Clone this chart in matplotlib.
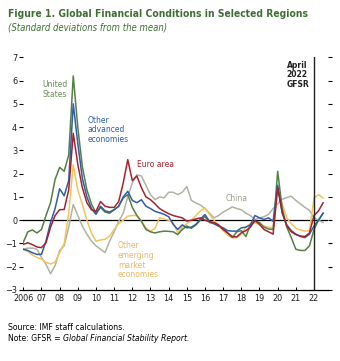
import numpy as np
import matplotlib
matplotlib.use("Agg")
from matplotlib import pyplot as plt
from matplotlib import font_manager

# pick a narrow face if one is installed
names = {(f.name, f.stretch) for f in font_manager.fontManager.ttflist}
if any(n == 'Liberation Sans Narrow' for n, s in names):
    plt.rcParams['font.family'] = ['Liberation Sans Narrow', 'DejaVu Sans']
elif ('DejaVu Sans', 'condensed') in names or ('DejaVu Sans', 'semi-condensed') in names:
    plt.rcParams['font.family'] = ['DejaVu Sans']
    plt.rcParams['font.stretch'] = 'condensed'
else:
    plt.rcParams['font.family'] = ['Liberation Sans', 'DejaVu Sans']

# quarterly, 2006Q1 .. 2022Q3
t = 2006 + np.arange(67) / 4

united_states = [-0.95, -0.5, -0.42, -0.55, -0.4, 0.2, 0.75, 1.75, 2.27, 2.1, 2.8, 6.2,
                 4.0, 2.3, 1.3, 0.7, 0.3, 0.55, 0.35, 0.3, 0.45, 0.6, 0.95, 1.1,
                 0.55, 0.2, -0.05, -0.4, -0.5, -0.55, -0.5, -0.47, -0.48, -0.5, -0.62, -0.4,
                 -0.25, -0.35, -0.2, 0.0, 0.15, -0.1, -0.15, -0.25, -0.35, -0.55, -0.75, -0.5,
                 -0.45, -0.7, -0.2, -0.05, -0.1, -0.3, -0.38, -0.4, 2.1, 0.5, -0.3, -0.75,
                 -1.25, -1.3, -1.3, -1.1, -0.4, 0.0, 0.3]
other_advanced = [-1.25, -1.3, -1.4, -1.47, -1.47, -0.9, -0.1, 0.5, 1.35, 1.05, 1.7, 5.0,
                  3.3, 1.8, 1.0, 0.5, 0.25, 0.6, 0.4, 0.35, 0.45, 0.6, 1.0, 1.24,
                  0.85, 0.75, 0.88, 0.6, 0.5, 0.38, 0.32, 0.25, 0.15, -0.18, -0.4, -0.2,
                  -0.33, -0.3, -0.18, 0.05, 0.24, -0.05, -0.15, -0.25, -0.33, -0.45, -0.47, -0.47,
                  -0.33, -0.3, -0.2, 0.2, 0.1, 0.03, 0.1, -0.05, 1.5, 0.3, -0.2, -0.45,
                  -0.6, -0.7, -0.75, -0.6, -0.25, 0.0, 0.3]
euro_area = [-1.04, -0.97, -1.05, -1.15, -1.18, -0.97, -0.3, 0.2, 0.45, 0.46, 1.3, 3.73,
             2.4, 1.4, 0.75, 0.45, 0.38, 0.8, 0.6, 0.55, 0.55, 0.8, 1.6, 2.6,
             1.7, 1.9, 1.4, 1.0, 0.88, 0.7, 0.5, 0.38, 0.28, 0.2, 0.15, 0.1,
             -0.04, 0.0, 0.05, 0.1, 0.0, -0.07, -0.1, -0.2, -0.4, -0.55, -0.7, -0.72,
             -0.54, -0.45, -0.3, 0.0, -0.18, -0.4, -0.5, -0.6, 1.4, 0.35, -0.25, -0.5,
             -0.62, -0.68, -0.7, -0.55, 0.2, 0.4, 0.75]
china = [-1.25, -1.2, -1.2, -1.25, -1.6, -1.9, -2.3, -1.95, -1.3, -1.1, -0.3, 0.67,
         0.2, -0.25, -0.6, -0.9, -1.1, -1.25, -1.39, -0.9, -0.5, -0.05, 0.3, 1.0,
         1.6, 1.95, 1.9, 1.5, 1.1, 0.88, 1.0, 0.96, 1.2, 1.2, 1.1, 1.2,
         1.45, 0.85, 0.74, 0.65, 0.5, 0.3, 0.1, 0.2, 0.35, 0.45, 0.57, 0.5,
         0.45, 0.3, 0.2, 0.03, 0.1, 0.15, 0.25, 0.5, 0.7, 0.9, 0.97, 1.03,
         0.85, 0.7, 0.55, 0.42, 0.1, 0.0, -0.1]
other_emerging = [-1.25, -1.35, -1.5, -1.6, -1.68, -1.82, -1.88, -1.8, -1.4, -1.0, 0.3, 2.38,
                  1.3, 0.67, 0.0, -0.55, -0.9, -0.85, -0.82, -0.68, -0.4, -0.15, 0.0, 0.17,
                  0.2, 0.2, -0.04, -0.33, -0.47, -0.35, 0.1, 0.05, 0.0, -0.11, -0.55, -0.3,
                  -0.15, 0.0, 0.2, 0.4, 0.53, 0.25, 0.0, -0.25, -0.45, -0.65, -0.75, -0.75,
                  -0.6, -0.3, -0.15, -0.12, -0.18, -0.25, -0.3, -0.33, 1.25, 0.7, 0.1, -0.15,
                  -0.35, -0.42, -0.47, -0.45, 0.95, 1.1, 0.95]

years = list(range(2006, 2023))
year_labels = ['2006'] + ['%02d' % (y % 100) for y in years[1:]]

c_us = '#557f45'
c_adv = '#2f5da6'
c_euro = '#a3232f'
c_china = '#b0b2a3'
c_em = '#f3c35f'
c_title = '#3f6e34'

fig = plt.figure(figsize=(3.4, 3.61), dpi=100)
renderer = fig.canvas.get_renderer()


def fit_size(s, width_px, **kw):
    # font size at which string s is width_px pixels wide
    tmp = fig.text(0, 0, s, fontsize=10, **kw)
    w = tmp.get_window_extent(renderer=renderer).width
    tmp.remove()
    return 10 * width_px / w


ax = fig.add_axes([0.0685, 0.1967, 0.8962, 0.6446])

lw = 1.1
ax.plot(t, china, color=c_china, lw=lw)
ax.plot(t, other_emerging, color=c_em, lw=lw)
ax.plot(t, united_states, color=c_us, lw=lw)
ax.plot(t, other_advanced, color=c_adv, lw=lw)
ax.plot(t, euro_area, color=c_euro, lw=lw)

ax.axhline(0, color='black', lw=0.9, zorder=1)
ax.axvline(2022, color='#222222', lw=1.0)

ax.set_xlim(2006, 2022.77)
ax.set_ylim(-3, 7)
ax.set_xticks(years)
ax.set_xticklabels(year_labels)
ax.set_yticks(range(-3, 8))

for s in ['top', 'left', 'right']:
    ax.spines[s].set_visible(False)
ax.spines['bottom'].set_linewidth(0.9)

tick_fs = min(fit_size('2006', 20.5), 8)
ax.tick_params(axis='x', direction='in', length=2.5, width=0.7, labelsize=tick_fs, pad=3)
ax.tick_params(axis='y', direction='out', length=3, width=0.8, labelsize=tick_fs, pad=1.5,
               right=True, left=True)
for lab in ax.get_xticklabels() + ax.get_yticklabels():
    lab.set_color('#1a1a1a')

ann_fs = min(fit_size('economies', 41.5), 8)
txt = dict(fontsize=ann_fs, linespacing=1.1, va='center', ha='left')
ax.text(2007.03, 5.63, 'United\nStates', color='#6a8a58', **txt)
ax.text(2009.56, 3.88, 'Other\nadvanced\neconomies', color=c_adv, **txt)
ax.text(2012.26, 2.38, 'Euro area', color=c_euro, **txt)
ax.text(2017.16, 0.93, 'China', color='#9b9e8c', **txt)
ax.text(2011.21, -1.72, 'Other\nemerging\nmarket\neconomies', color='#e8b665', **txt)
ax.text(2020.5, 6.25, 'April\n2022\nGFSR', color='#222222', fontweight='bold', **txt)

title = 'Figure 1. Global Financial Conditions in Selected Regions'
fig.text(0.024, 0.961, title, color=c_title, va='center', fontweight='bold',
         fontsize=fit_size(title, 294, fontweight='bold'))
sub = '(Standard deviations from the mean)'
fig.text(0.024, 0.925, sub, color=c_title, style='italic', va='center',
         fontsize=fit_size(sub, 159, style='italic'))

src = 'Source: IMF staff calculations.'
foot_fs = fit_size(src, 117)
fig.text(0.024, 0.094, src, fontsize=foot_fs, va='center')
note = fig.text(0.024, 0.061, 'Note: GFSR = ', fontsize=foot_fs, va='center')
bb = note.get_window_extent(renderer=renderer)
fig.text(bb.x1 / fig.bbox.width, 0.061, 'Global Financial Stability Report.',
         fontsize=foot_fs, style='italic', va='center')

plt.savefig('out.png', dpi=100, facecolor='white')
